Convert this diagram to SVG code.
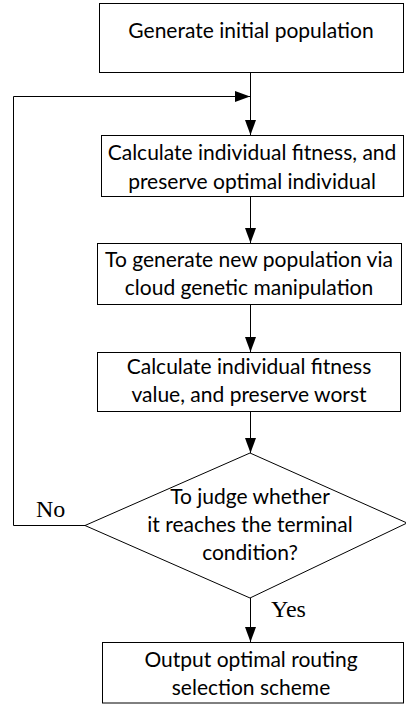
<svg xmlns="http://www.w3.org/2000/svg" width="406" height="704" viewBox="0 0 406 704">
<defs>
<style>
.box{fill:#fff;stroke:#000;stroke-width:1}
.t{font-family:Lato,"Open Sans",sans-serif;font-size:21px;fill:#000;text-anchor:middle}
.lbl{font-family:"Liberation Serif","Times New Roman",serif;font-size:24px;fill:#000}
.ln{fill:none;stroke:#000;stroke-width:1}
</style>
<marker id="ah" viewBox="0 0 15 11" refX="15" refY="5.5" markerWidth="15" markerHeight="11" markerUnits="userSpaceOnUse" orient="auto">
<path d="M0,0 L15,5.5 L0,11 Z" fill="#000"/>
</marker>
</defs>
<rect width="406" height="704" fill="#fff"/>
<g id="connectors">
<line class="ln" x1="250.5" y1="73" x2="250.5" y2="135" marker-end="url(#ah)"/>
<line class="ln" x1="250.5" y1="197" x2="250.5" y2="243" marker-end="url(#ah)"/>
<line class="ln" x1="250.5" y1="305" x2="250.5" y2="352" marker-end="url(#ah)"/>
<line class="ln" x1="250.5" y1="412" x2="250.5" y2="453" marker-end="url(#ah)"/>
<line class="ln" x1="250.5" y1="598" x2="250.5" y2="642" marker-end="url(#ah)"/>
<polyline class="ln" points="85,525.5 13.5,525.5 13.5,96.5 250,96.5" marker-end="url(#ah)"/>
</g>
<g id="n1">
<rect class="box" x="99.5" y="3.5" width="304" height="69"/>
<text class="t" x="251" y="38">Generate initial population</text>
</g>
<g id="n2">
<rect class="box" x="101.5" y="135.5" width="302" height="61"/>
<text class="t" x="252" y="160">Calculate individual fitness, and</text>
<text class="t" x="252" y="188.5">preserve optimal individual</text>
</g>
<g id="n3">
<rect class="box" x="97.5" y="243.5" width="304" height="61"/>
<text class="t" x="249" y="266.5">To generate new population via</text>
<text class="t" x="249" y="295">cloud genetic manipulation</text>
</g>
<g id="n4">
<rect class="box" x="97.5" y="352.5" width="303" height="59"/>
<text class="t" x="249" y="373.5">Calculate individual fitness</text>
<text class="t" x="249" y="402">value, and preserve worst</text>
</g>
<g id="n5">
<polygon class="box" points="250,453 407,523 250,598 85,525.5"/>
<text class="t" x="250" y="503.5">To judge whether</text>
<text class="t" x="250" y="532">it reaches the terminal</text>
<text class="t" x="250" y="560">condition?</text>
</g>
<g id="n6">
<rect class="box" x="102.5" y="642.5" width="301" height="60.5"/>
<text class="t" x="251" y="666.5">Output optimal routing</text>
<text class="t" x="251" y="695">selection scheme</text>
</g>
<g id="labels">
<text class="lbl" x="36" y="517">No</text>
<text class="lbl" x="271" y="617">Yes</text>
</g>
</svg>
